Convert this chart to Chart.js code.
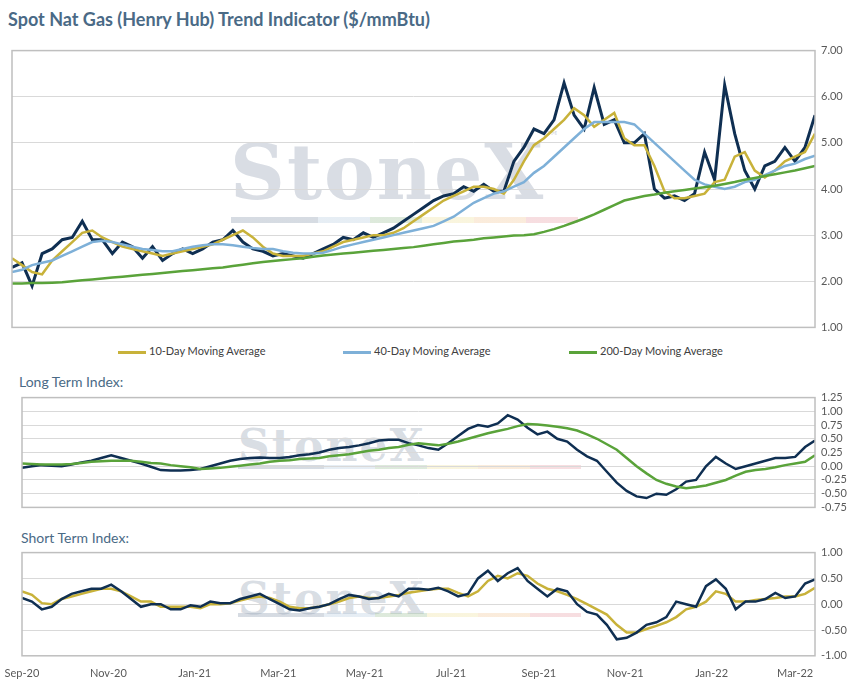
<!DOCTYPE html>
<html>
<head>
<meta charset="utf-8">
<script src="https://cdn.jsdelivr.net/npm/chart.js@4/dist/chart.umd.min.js"></script>
<style>
  body { margin: 0; background: #fff; font-family: Lato, "Open Sans", sans-serif; }
  .box { position: absolute; }
  .title { position: absolute; left: 8px; top: 8px; font-size: 18px; font-weight: bold; color: #4a6a86; }
  .sub { position: absolute; font-size: 14px; color: #4a6a86; }
  .legend { position: absolute; top: 344px; font-size: 11px; color: #404040; }
  .legend span { display: inline-block; width: 28px; height: 3px; vertical-align: middle; margin-right: 3px; }
  .wm { position: absolute; font-family: "DejaVu Serif", serif; font-weight: bold; color: rgba(170,180,195,0.45); letter-spacing: 2px; }
  .wmbar { position: absolute; height: 6px; opacity: 0.35;
    background: linear-gradient(90deg, #8a99ad 0 25%, #b8cde0 25% 40%, #9fc29a 40% 55%, #efe2a0 55% 70%, #f2c89a 70% 85%, #e8a0a8 85% 100%); }
</style>
</head>
<body>
<div class="title">Spot Nat Gas (Henry Hub) Trend Indicator ($/mmBtu)</div>

<div class="wm" style="left:230px;top:128px;font-size:76px;">StoneX<span style="font-size:14px;vertical-align:top;">™</span></div>
<div class="wmbar" style="left:231px;top:217px;width:347px;"></div>
<div class="wm" style="left:238px;top:420px;font-size:44px;">StoneX</div>
<div class="wmbar" style="left:238px;top:465px;width:343px;height:4px;"></div>
<div class="wm" style="left:238px;top:573px;font-size:44px;">StoneX</div>
<div class="wmbar" style="left:238px;top:613px;width:343px;height:4px;"></div>

<div class="box" style="left:0;top:38px;width:863px;height:302px;"><canvas id="main"></canvas></div>
<div class="legend" style="left:118px;"><span style="background:#c8b23a"></span>10-Day Moving Average</div>
<div class="legend" style="left:343px;"><span style="background:#7eb0d8"></span>40-Day Moving Average</div>
<div class="legend" style="left:569px;"><span style="background:#5aa33a"></span>200-Day Moving Average</div>

<div class="sub" style="left:19px;top:373px;">Long Term Index:</div>
<div class="box" style="left:0;top:385px;width:863px;height:135px;"><canvas id="long"></canvas></div>
<div class="sub" style="left:21px;top:529px;">Short Term Index:</div>
<div class="box" style="left:0;top:540px;width:863px;height:143px;"><canvas id="short"></canvas></div>

<script>
// weekly samples starting 2020-09-01
const startDate = new Date(2020, 8, 1);

const price = [2.3, 2.4, 1.9, 2.6, 2.7, 2.9, 2.95, 3.3, 2.9, 2.9, 2.6, 2.85, 2.75, 2.5, 2.75, 2.45, 2.6, 2.7, 2.6, 2.7,
  2.85, 2.9, 3.1, 2.85, 2.7, 2.65, 2.55, 2.6, 2.55, 2.5, 2.6, 2.7, 2.8, 2.95, 2.9, 3.05, 2.95, 3.05, 3.15, 3.3,
  3.45, 3.6, 3.75, 3.85, 3.9, 4.05, 3.95, 4.1, 3.95, 3.95, 4.6, 4.9, 5.3, 5.2, 5.5, 6.3, 5.6, 5.3, 6.2, 5.4,
  5.5, 5.0, 5.0, 5.2, 4.0, 3.8, 3.85, 3.75, 3.9, 4.8, 4.2, 6.25, 5.2, 4.4, 4.0, 4.5, 4.6, 4.9, 4.6, 4.9, 5.6];
const ma10 = [2.5, 2.35, 2.2, 2.15, 2.45, 2.65, 2.85, 3.05, 3.1, 2.95, 2.85, 2.75, 2.7, 2.65, 2.6, 2.55, 2.6, 2.65, 2.7, 2.75,
  2.8, 2.9, 3.0, 3.1, 2.95, 2.75, 2.6, 2.55, 2.55, 2.55, 2.6, 2.65, 2.75, 2.85, 2.9, 2.95, 3.0, 3.0, 3.05, 3.15,
  3.3, 3.45, 3.6, 3.75, 3.85, 3.95, 4.05, 4.05, 4.0, 3.9, 4.2, 4.6, 4.95, 5.1, 5.3, 5.5, 5.75, 5.6, 5.35, 5.5,
  5.65, 5.1, 4.95, 4.95, 4.5, 3.95, 3.8, 3.8, 3.85, 3.9, 4.15, 4.2, 4.7, 4.8, 4.4, 4.25, 4.4, 4.6, 4.7, 4.8, 5.2];
const ma40 = [2.2, 2.25, 2.35, 2.4, 2.45, 2.55, 2.65, 2.75, 2.85, 2.88, 2.85, 2.8, 2.75, 2.7, 2.68, 2.65, 2.65, 2.7, 2.75, 2.78,
  2.8, 2.8, 2.78, 2.75, 2.72, 2.7, 2.7, 2.65, 2.62, 2.6, 2.6, 2.62, 2.68, 2.75, 2.8, 2.85, 2.9, 2.95, 3.0, 3.05,
  3.1, 3.15, 3.2, 3.3, 3.4, 3.55, 3.7, 3.8, 3.9, 3.95, 4.05, 4.15, 4.35, 4.5, 4.7, 4.9, 5.1, 5.3, 5.45, 5.45,
  5.45, 5.45, 5.4, 5.2, 5.0, 4.8, 4.6, 4.4, 4.2, 4.1, 4.05, 4.0, 4.05, 4.15, 4.2, 4.3, 4.4, 4.5, 4.55, 4.65, 4.72];
const ma200 = [1.95, 1.95, 1.96, 1.96, 1.97, 1.98, 2.0, 2.02, 2.04, 2.06, 2.08, 2.1, 2.12, 2.14, 2.16, 2.18, 2.2, 2.22, 2.24, 2.26,
  2.28, 2.3, 2.33, 2.36, 2.39, 2.42, 2.44, 2.46, 2.48, 2.5, 2.53, 2.56, 2.58, 2.6, 2.62, 2.64, 2.66, 2.68, 2.7, 2.72,
  2.74, 2.77, 2.8, 2.83, 2.86, 2.88, 2.9, 2.93, 2.95, 2.97, 2.99, 3.0, 3.02, 3.07, 3.13, 3.2, 3.28, 3.36, 3.45, 3.55,
  3.65, 3.75, 3.8, 3.85, 3.88, 3.92, 3.95, 3.98, 4.01, 4.04, 4.07, 4.11, 4.15, 4.2, 4.24, 4.28, 4.32, 4.36, 4.4, 4.45, 4.5];

const longIdx = [-0.03, 0.0, 0.02, 0.01, 0.0, 0.03, 0.07, 0.1, 0.15, 0.2, 0.15, 0.1, 0.05, -0.01, -0.07, -0.08, -0.08, -0.07, -0.05, 0.0,
  0.05, 0.1, 0.13, 0.15, 0.16, 0.15, 0.15, 0.17, 0.2, 0.22, 0.25, 0.3, 0.33, 0.35, 0.38, 0.42, 0.47, 0.48, 0.48, 0.42,
  0.38, 0.33, 0.3, 0.42, 0.55, 0.68, 0.75, 0.72, 0.78, 0.93, 0.85, 0.7, 0.58, 0.63, 0.5, 0.45, 0.3, 0.18, 0.1, -0.1,
  -0.3, -0.45, -0.55, -0.58, -0.5, -0.52, -0.42, -0.28, -0.25, 0.0, 0.17, 0.05, -0.05, 0.0, 0.05, 0.1, 0.15, 0.15, 0.17, 0.35, 0.47];
const longMa = [0.05, 0.04, 0.03, 0.03, 0.03, 0.04, 0.06, 0.08, 0.09, 0.1, 0.1, 0.1, 0.08, 0.06, 0.05, 0.02, 0.0, -0.02, -0.05, -0.04,
  -0.03, -0.01, 0.01, 0.03, 0.05, 0.08, 0.1, 0.11, 0.13, 0.14, 0.15, 0.18, 0.2, 0.22, 0.25, 0.28, 0.3, 0.33, 0.35, 0.39,
  0.42, 0.4, 0.38, 0.41, 0.45, 0.5, 0.55, 0.6, 0.64, 0.68, 0.73, 0.77, 0.76, 0.74, 0.72, 0.69, 0.65, 0.58, 0.5, 0.4,
  0.3, 0.15, 0.0, -0.13, -0.25, -0.32, -0.37, -0.4, -0.38, -0.35, -0.3, -0.25, -0.17, -0.1, -0.07, -0.05, -0.02, 0.02, 0.05, 0.08, 0.2];

const shortIdx = [0.12, 0.05, -0.1, -0.05, 0.1, 0.2, 0.25, 0.3, 0.3, 0.38, 0.25, 0.1, -0.05, 0.0, 0.0, -0.1, -0.1, -0.02, -0.05, 0.05,
  0.02, 0.02, 0.1, 0.15, 0.2, 0.1, 0.0, -0.1, -0.12, -0.08, -0.05, 0.0, 0.1, 0.18, 0.15, 0.1, 0.12, 0.2, 0.15, 0.3,
  0.3, 0.28, 0.32, 0.25, 0.15, 0.2, 0.5, 0.65, 0.45, 0.6, 0.7, 0.45, 0.3, 0.15, 0.3, 0.25, 0.0, -0.15, -0.2, -0.4,
  -0.68, -0.65, -0.55, -0.4, -0.35, -0.25, 0.05, 0.0, -0.05, 0.35, 0.48, 0.3, -0.1, 0.05, 0.05, 0.1, 0.22, 0.12, 0.15, 0.4, 0.48];
const shortMa = [0.25, 0.18, 0.02, 0.0, 0.1, 0.15, 0.2, 0.25, 0.3, 0.3, 0.25, 0.15, 0.05, 0.05, -0.05, -0.05, -0.05, -0.05, -0.08, 0.0,
  0.0, 0.02, 0.07, 0.12, 0.15, 0.12, 0.05, -0.05, -0.08, -0.08, -0.05, 0.0, 0.05, 0.12, 0.15, 0.12, 0.12, 0.15, 0.18, 0.22,
  0.25, 0.28, 0.3, 0.3, 0.22, 0.15, 0.25, 0.45, 0.55, 0.5, 0.6, 0.55, 0.4, 0.3, 0.25, 0.18, 0.1, 0.0, -0.1, -0.2,
  -0.4, -0.55, -0.55, -0.48, -0.42, -0.35, -0.25, -0.1, -0.05, 0.05, 0.25, 0.2, 0.05, 0.05, 0.08, 0.1, 0.12, 0.15, 0.15, 0.2, 0.32];

const tickLabels = ["Sep-20", "Nov-20", "Jan-21", "Mar-21", "May-21", "Jul-21", "Sep-21", "Nov-21", "Jan-22", "Mar-22"];
const tickDates = [[2020, 8], [2020, 10], [2021, 0], [2021, 2], [2021, 4], [2021, 6], [2021, 8], [2021, 10], [2022, 0], [2022, 2]];
const tickWeeks = tickDates.map(d => (new Date(d[0], d[1], 1) - startDate) / (7 * 86400000));

const weeks = price.map((_, i) => i);
const pts = arr => arr.map((v, i) => ({ x: weeks[i], y: v }));

const NAVY = '#0f2f52', GOLD = '#c8b23a', BLUE = '#7eb0d8', GREEN = '#5aa33a';

const frame = {
  id: 'frame',
  afterDraw(chart) {
    const a = chart.chartArea, c = chart.ctx;
    c.save();
    c.strokeStyle = '#bfbfbf';
    c.lineWidth = 1.5;
    c.strokeRect(a.left, a.top, a.right - a.left, a.bottom - a.top);
    c.restore();
  }
};

function line(data, color, width) {
  return { data: pts(data), borderColor: color, borderWidth: width, pointRadius: 0, tension: 0, fill: false };
}

function makeChart(id, datasets, yMin, yMax, step, pad, showX) {
  return new Chart(document.getElementById(id), {
    type: 'line',
    data: { datasets: datasets },
    plugins: [frame],
    options: {
      responsive: true,
      maintainAspectRatio: false,
      animation: false,
      layout: { padding: pad },
      plugins: { legend: { display: false }, tooltip: { enabled: false } },
      scales: {
        x: {
          type: 'linear', min: 0, max: weeks.length - 1,
          display: showX,
          grid: { display: false },
          border: { display: false },
          afterBuildTicks: s => { s.ticks = tickWeeks.map(v => ({ value: v })); },
          ticks: {
            autoSkip: false, maxRotation: 0, color: '#595959', font: { size: 11, family: 'Lato' },
            callback: (v, i) => tickLabels[i]
          }
        },
        y: {
          position: 'right', min: yMin, max: yMax,
          afterFit: s => { s.width = 48; },
          grid: { color: '#d9d9d9', drawTicks: false },
          border: { display: false },
          ticks: {
            stepSize: step, autoSkip: false, padding: 6, color: '#595959', font: { size: 11, family: 'Lato' },
            callback: v => v.toFixed(2)
          }
        }
      }
    }
  });
}

makeChart('main', [
  line(ma200, GREEN, 2.5),
  line(ma40, BLUE, 2.5),
  line(ma10, GOLD, 2.5),
  line(price, NAVY, 3)
], 1, 7, 1, { left: 12, top: 5, bottom: 7 }, false);

makeChart('long', [
  line(longMa, GREEN, 2.5),
  line(longIdx, NAVY, 2.5)
], -0.75, 1.25, 0.25, { left: 22, top: 4, bottom: 8 }, false);

makeChart('short', [
  line(shortIdx, NAVY, 2.5),
  line(shortMa, GOLD, 2.5)
], -1, 1, 0.5, { left: 22, top: 7, bottom: 0 }, true);
</script>
</body>
</html>
